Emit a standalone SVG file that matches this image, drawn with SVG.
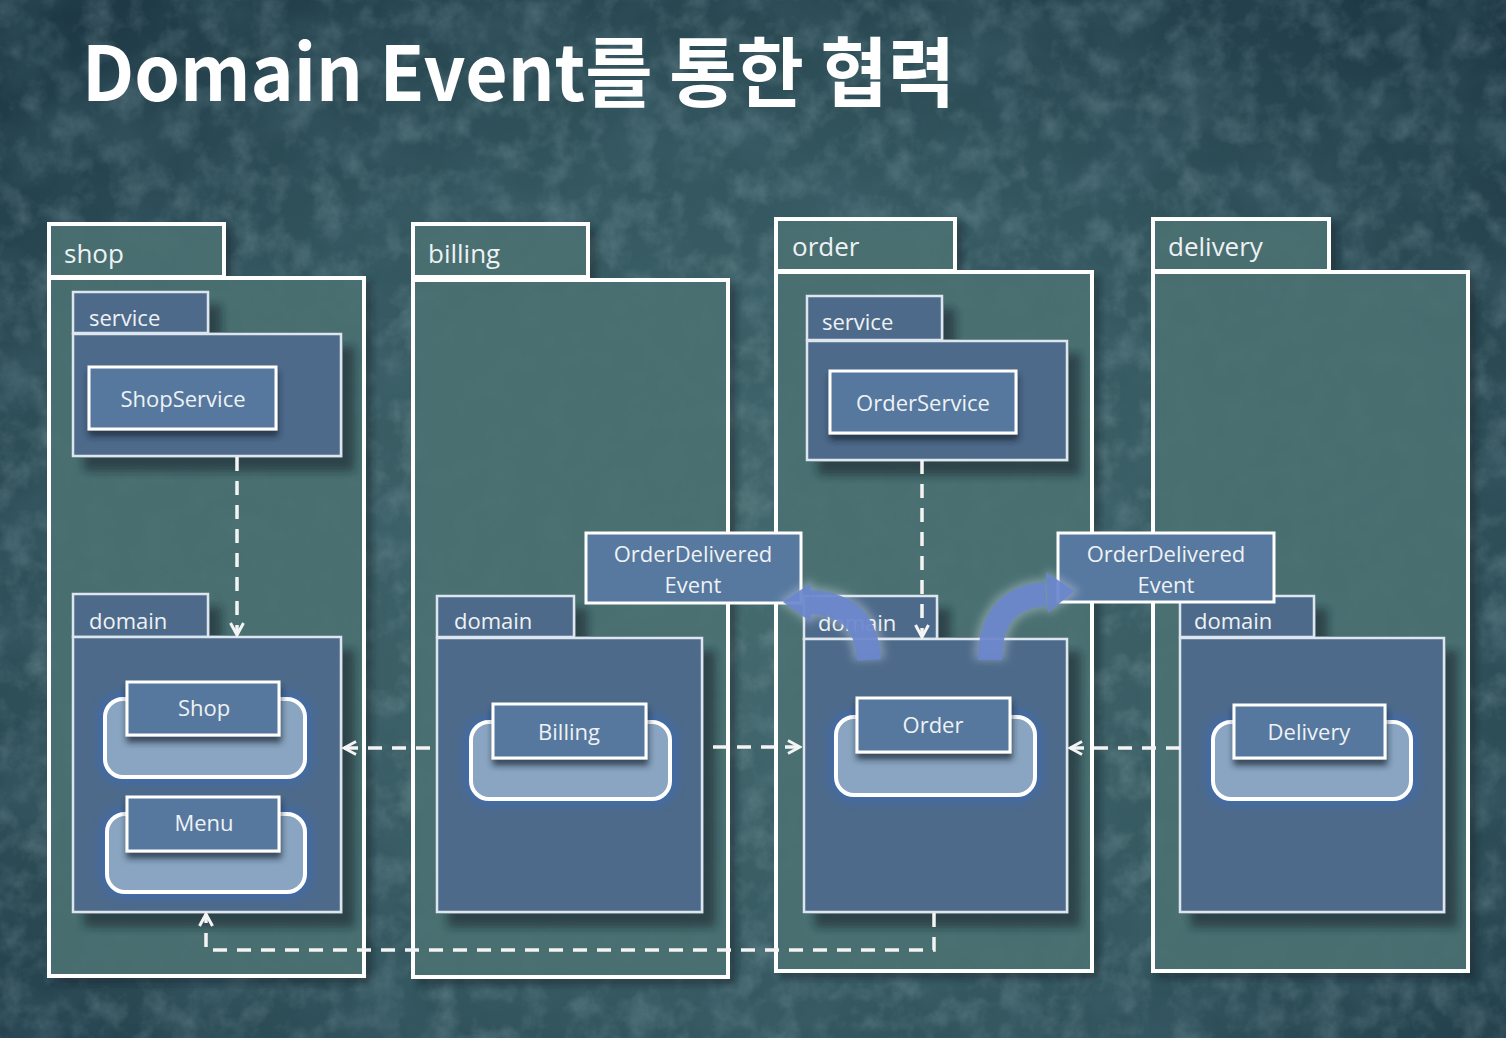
<svg xmlns="http://www.w3.org/2000/svg" width="1506" height="1038" viewBox="0 0 1506 1038">
<defs>
  <radialGradient id="bg" cx="50%" cy="58%" r="75%">
    <stop offset="0" stop-color="#456a6e"/>
    <stop offset="0.55" stop-color="#34575f"/>
    <stop offset="1" stop-color="#1c3643"/>
  </radialGradient>
  <filter id="noiseL" x="0" y="0" width="100%" height="100%">
    <feTurbulence type="fractalNoise" baseFrequency="0.035" numOctaves="5" seed="4"/>
    <feColorMatrix type="matrix" values="0 0 0 0 0.55  0 0 0 0 0.72  0 0 0 0 0.76  1.3 0 0 0 -0.55"/>
  </filter>
  <filter id="noiseD" x="0" y="0" width="100%" height="100%">
    <feTurbulence type="fractalNoise" baseFrequency="0.012" numOctaves="4" seed="11"/>
    <feColorMatrix type="matrix" values="0 0 0 0 0.06  0 0 0 0 0.14  0 0 0 0 0.18  1.4 0 0 0 -0.55"/>
  </filter>
  <filter id="shadow" x="-10%" y="-10%" width="130%" height="130%">
    <feDropShadow dx="12" dy="14" stdDeviation="4" flood-color="#14232a" flood-opacity="0.55"/>
  </filter>
  <filter id="pshadow" x="-10%" y="-10%" width="130%" height="130%">
    <feDropShadow dx="6" dy="6" stdDeviation="3" flood-color="#10202a" flood-opacity="0.5"/>
  </filter>
  <filter id="cshadow" x="-10%" y="-20%" width="130%" height="160%">
    <feDropShadow dx="1" dy="6" stdDeviation="3" flood-color="#1c2a38" flood-opacity="0.75"/>
  </filter>
  <filter id="glow" x="-20%" y="-30%" width="140%" height="160%">
    <feGaussianBlur stdDeviation="5"/>
  </filter>
  <filter id="wglow" x="-30%" y="-30%" width="160%" height="160%">
    <feGaussianBlur stdDeviation="4"/>
  </filter>
  <marker id="open" viewBox="0 0 16 16" refX="14" refY="8" markerWidth="16" markerHeight="16" markerUnits="userSpaceOnUse" orient="auto">
    <path d="M2,1.5 L14,8 L2,14.5" fill="none" stroke="#f4f4f4" stroke-width="3" stroke-dasharray="none"/>
  </marker>
</defs>
<style>
  .pkg{fill:#4b7375;fill-opacity:.85;stroke:#ffffff;stroke-width:4}
  .sub{fill:#4d6b8b;stroke:#dde5ee;stroke-width:2.5}
  .cls{fill:#57789f;stroke:#ffffff;stroke-width:3}
  .agg{fill:#8aa5c1;stroke:#ffffff;stroke-width:4}
  .aglow{fill:none;stroke:#3c6cb4;stroke-width:12;opacity:.8}
  .t{font-family:"Open Sans","Noto Sans",sans-serif;fill:#eef2f4}
  .pk{font-size:26px}
  .sb{font-size:22px}
  .cl{font-size:22px;text-anchor:middle}
  .dash{fill:none;stroke:#f4f4f4;stroke-width:3.5;stroke-dasharray:14 10}
  .blue{fill:none;stroke:#6a86cc;stroke-width:24;opacity:.92}
  .bluehead{fill:#6a86cc;opacity:.92}
  .bglow{fill:none;stroke:#dfe8f2;stroke-width:32;opacity:.35}
</style>

<rect width="1506" height="1038" fill="url(#bg)"/>
<rect width="1506" height="1038" filter="url(#noiseL)" opacity="0.35"/>
<rect width="1506" height="1038" filter="url(#noiseD)" opacity="0.55"/>

<text x="82" y="101" font-family="'Noto Sans CJK KR','Noto Sans',sans-serif" font-weight="700" font-size="76" fill="#ffffff" textLength="873" lengthAdjust="spacingAndGlyphs">Domain Event를 통한 협력</text>

<!-- shop package -->
<g id="pkg-shop">
  <g filter="url(#pshadow)">
    <rect class="pkg" x="49" y="224" width="175" height="53"/>
    <rect class="pkg" x="49" y="278" width="315" height="698"/>
  </g>
  <text class="t pk" x="64" y="263">shop</text>
  <g id="shop-service">
    <g filter="url(#shadow)">
      <rect class="sub" x="73" y="292" width="135" height="41"/>
      <rect class="sub" x="73" y="334" width="268" height="122"/>
    </g>
    <text class="t sb" x="89" y="326">service</text>
    <g id="ShopService">
      <rect class="cls" x="89" y="367" width="187" height="62" filter="url(#cshadow)"/>
      <text class="t cl" x="183" y="407">ShopService</text>
    </g>
  </g>
  <g id="shop-domain">
    <g filter="url(#shadow)">
      <rect class="sub" x="73" y="594" width="135" height="43"/>
      <rect class="sub" x="73" y="637" width="268" height="275"/>
    </g>
    <text class="t sb" x="89" y="629">domain</text>
    <g id="Shop">
      <rect class="aglow" x="105" y="699" width="200" height="78" rx="18" filter="url(#glow)"/>
      <rect class="agg" x="105" y="699" width="200" height="78" rx="18"/>
      <rect class="cls" x="127" y="682" width="152" height="53" filter="url(#cshadow)"/>
      <text class="t cl" x="204" y="716">Shop</text>
    </g>
    <g id="Menu">
      <rect class="aglow" x="107" y="814" width="198" height="78" rx="18" filter="url(#glow)"/>
      <rect class="agg" x="107" y="814" width="198" height="78" rx="18"/>
      <rect class="cls" x="127" y="797" width="152" height="54" filter="url(#cshadow)"/>
      <text class="t cl" x="204" y="831">Menu</text>
    </g>
  </g>
</g>

<!-- billing package -->
<g id="pkg-billing">
  <g filter="url(#pshadow)">
    <rect class="pkg" x="413" y="224" width="175" height="53"/>
    <rect class="pkg" x="413" y="280" width="315" height="697"/>
  </g>
  <text class="t pk" x="428" y="263">billing</text>
  <g id="billing-domain">
    <g filter="url(#shadow)">
      <rect class="sub" x="437" y="596" width="137" height="41"/>
      <rect class="sub" x="437" y="638" width="265" height="274"/>
    </g>
    <text class="t sb" x="454" y="629">domain</text>
    <g id="Billing">
      <rect class="aglow" x="471" y="722" width="199" height="77" rx="18" filter="url(#glow)"/>
      <rect class="agg" x="471" y="722" width="199" height="77" rx="18"/>
      <rect class="cls" x="493" y="704" width="153" height="54" filter="url(#cshadow)"/>
      <text class="t cl" x="569" y="740">Billing</text>
    </g>
  </g>
</g>

<!-- order package -->
<g id="pkg-order">
  <g filter="url(#pshadow)">
    <rect class="pkg" x="776" y="219" width="179" height="52"/>
    <rect class="pkg" x="776" y="272" width="316" height="699"/>
  </g>
  <text class="t pk" x="792" y="256">order</text>
  <g id="order-service">
    <g filter="url(#shadow)">
      <rect class="sub" x="807" y="296" width="135" height="44"/>
      <rect class="sub" x="807" y="341" width="260" height="119"/>
    </g>
    <text class="t sb" x="822" y="330">service</text>
    <g id="OrderService">
      <rect class="cls" x="830" y="371" width="186" height="62" filter="url(#cshadow)"/>
      <text class="t cl" x="923" y="411">OrderService</text>
    </g>
  </g>
  <g id="order-domain">
    <g filter="url(#shadow)">
      <rect class="sub" x="804" y="596" width="133" height="43"/>
      <rect class="sub" x="804" y="639" width="263" height="273"/>
    </g>
    <text class="t sb" x="818" y="631">domain</text>
    <g id="Order">
      <rect class="aglow" x="836" y="717" width="199" height="78" rx="18" filter="url(#glow)"/>
      <rect class="agg" x="836" y="717" width="199" height="78" rx="18"/>
      <rect class="cls" x="857" y="698" width="153" height="54" filter="url(#cshadow)"/>
      <text class="t cl" x="933" y="733">Order</text>
    </g>
  </g>
</g>

<!-- delivery package -->
<g id="pkg-delivery">
  <g filter="url(#pshadow)">
    <rect class="pkg" x="1153" y="219" width="176" height="52"/>
    <rect class="pkg" x="1153" y="272" width="315" height="699"/>
  </g>
  <text class="t pk" x="1168" y="256">delivery</text>
  <g id="delivery-domain">
    <g filter="url(#shadow)">
      <rect class="sub" x="1180" y="596" width="134" height="41"/>
      <rect class="sub" x="1180" y="638" width="264" height="274"/>
    </g>
    <text class="t sb" x="1194" y="629">domain</text>
    <g id="Delivery">
      <rect class="aglow" x="1213" y="722" width="198" height="77" rx="18" filter="url(#glow)"/>
      <rect class="agg" x="1213" y="722" width="198" height="77" rx="18"/>
      <rect class="cls" x="1234" y="705" width="151" height="53" filter="url(#cshadow)"/>
      <text class="t cl" x="1309" y="740">Delivery</text>
    </g>
  </g>
</g>

<!-- connectors -->
<g id="connectors">
  <path class="dash" d="M237,457 L237,635" marker-end="url(#open)"/>
  <path class="dash" d="M922,460 L922,637" marker-end="url(#open)"/>
  <path class="dash" d="M430,748 L344,748" marker-end="url(#open)"/>
  <path class="dash" d="M713,747 L800,747" marker-end="url(#open)"/>
  <path class="dash" d="M1180,748 L1070,748" marker-end="url(#open)"/>
  <path class="dash" d="M934,913 L934,950 L206,950 L206,914" marker-end="url(#open)"/>
</g>

<!-- domain events -->
<g id="event-left">
  <rect x="586" y="533" width="215" height="70" fill="#57789f" stroke="#ffffff" stroke-width="3"/>
  <text class="t cl" x="693" y="562">OrderDelivered</text>
  <text class="t cl" x="693" y="593">Event</text>
</g>
<g id="event-right">
  <rect x="1058" y="533" width="216" height="69" fill="#57789f" stroke="#ffffff" stroke-width="3"/>
  <text class="t cl" x="1166" y="562">OrderDelivered</text>
  <text class="t cl" x="1166" y="593">Event</text>
</g>

<g id="publish-arrows">
  <g filter="url(#wglow)">
    <path class="bglow" d="M869,660 Q866,604 810,602"/>
    <polygon points="778,602 812,578 812,626" fill="#dfe8f2" opacity="0.35"/>
    <path class="bglow" d="M990,660 Q990,598 1046,594"/>
    <polygon points="1080,591 1046,569 1048,616" fill="#dfe8f2" opacity="0.35"/>
  </g>
  <path class="blue" d="M869,660 Q866,604 810,602"/>
  <polygon class="bluehead" points="783,602 811,583 811,622"/>
  <path class="blue" d="M990,660 Q990,598 1046,594"/>
  <polygon class="bluehead" points="1074,591 1046,572 1048,613"/>
</g>
</svg>
